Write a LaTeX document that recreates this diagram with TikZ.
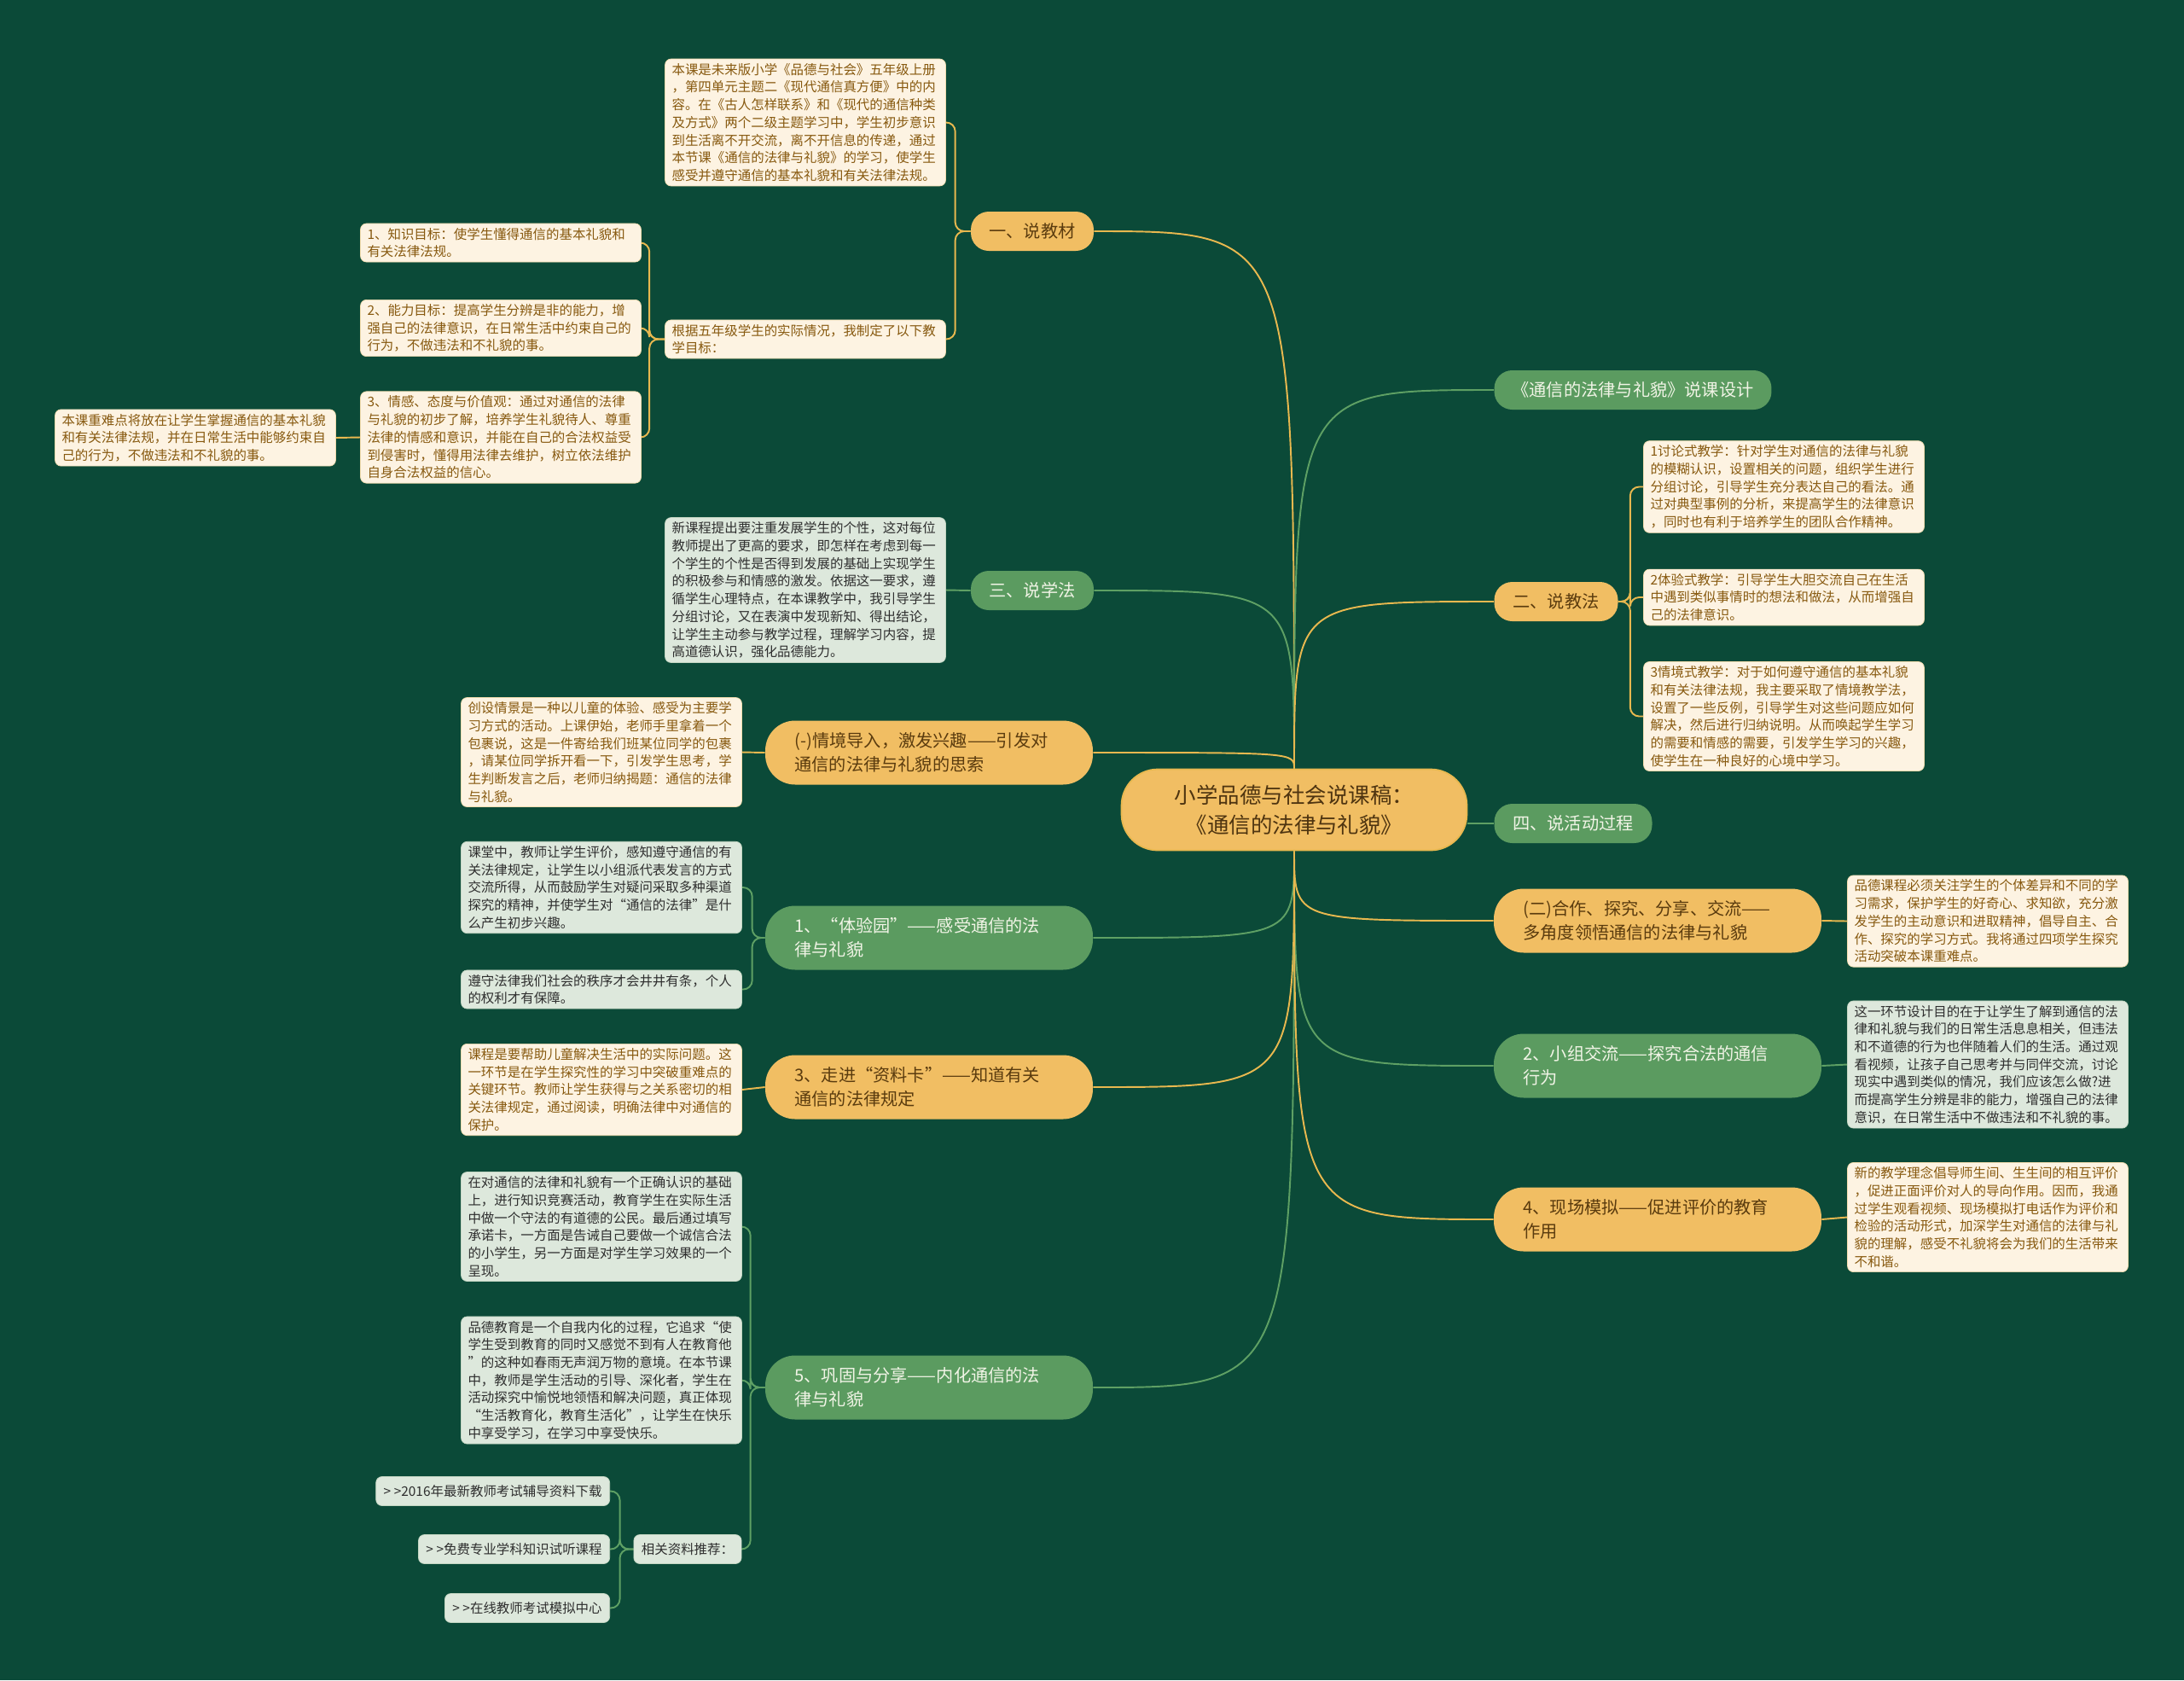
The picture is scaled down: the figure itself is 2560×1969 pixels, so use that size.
\documentclass[tikz,border=0pt]{standalone}
\usepackage{fontspec}
\setmainfont{Noto Sans CJK SC}
\usepackage{tikz}
\usetikzlibrary{positioning, backgrounds}
\definecolor{bgGreen}{HTML}{0B4A38}
\definecolor{brY}{HTML}{F1BE63}
\definecolor{brYT}{HTML}{5A3B0E}
\definecolor{rtT}{HTML}{4E3410}
\definecolor{brG}{HTML}{5B9B60}
\definecolor{brGT}{HTML}{F1F4E6}
\definecolor{lfY}{HTML}{FDF3E2}
\definecolor{lfYB}{HTML}{F2DCAE}
\definecolor{lfYT}{HTML}{87590F}
\definecolor{lfG}{HTML}{DDE8DC}
\definecolor{lfGB}{HTML}{C3D6C2}
\definecolor{lfGT}{HTML}{2E2E2E}
\definecolor{lnY}{HTML}{E8B84F}
\definecolor{lnG}{HTML}{5EA064}
\newcommand{\rlink}[3]{\draw[#1] (#2) .. controls (#2 |- #3) .. (#3);}
\newcommand{\elbow}[4]{\draw[#1, rounded corners=6pt] (#2) -- ++(#3,0) |- (#4);}

\begin{document}
\begin{tikzpicture}[x=0.02cm, y=-0.02cm,
rootbox/.style={fill=brY, draw=lnY, line width=1pt, text=rtT, rounded corners=0.85cm, minimum width=8.1cm, minimum height=1.9cm, align=center, font=\fontsize{14.5}{20}\selectfont},
ybr/.style={fill=brY, text=brYT, rounded corners=0.42cm, minimum height=0.92cm, inner xsep=0.3cm, font=\fontsize{11.5}{15.8}\selectfont},
gbr/.style={ybr, fill=brG, text=brGT},
wide/.style={rounded corners=0.7cm, align=left, text width=6.3cm, minimum height=1.5cm, inner xsep=0.69cm},
leafY/.style={draw=lfYB, line width=0.4pt, fill=lfY, text=lfYT, rounded corners=4pt, align=left, text width=6.26cm, inner xsep=0.16cm, inner ysep=0.1cm, font=\fontsize{8.8}{11.8}\selectfont},
leafG/.style={leafY, draw=lfGB, fill=lfG, text=lfGT},
lk/.style={draw=lfGB, line width=0.4pt, fill=lfG, text=lfGT, rounded corners=4pt, inner xsep=0.18cm, minimum height=0.68cm, anchor=east, font=\fontsize{8.8}{11.8}\selectfont},
yline/.style={draw=lnY, line width=1.1pt},
gline/.style={draw=lnG, line width=1.1pt}]
\useasboundingbox (0,0) rectangle (2560,1969);
\node[rootbox] (root) at (1517,949) {小学品德与社会说课稿：\\《通信的法律与礼貌》};
\node[ybr, minimum width=2.88cm] (jc) at (1210,271) {一、说教材};
\node[gbr, minimum width=2.88cm] (xf) at (1210,692) {三、说学法};
\node[ybr, wide] (qj) at (1089,882) {(-)情境导入，激发兴趣——引发对\\通信的法律与礼貌的思索};
\node[gbr, wide] (ty) at (1089,1099) {1、“体验园”——感受通信的法\\律与礼貌};
\node[ybr, wide] (zl) at (1089,1274) {3、走进“资料卡”——知道有关\\通信的法律规定};
\node[gbr, wide] (gg) at (1089,1626) {5、巩固与分享——内化通信的法\\律与礼貌};
\node[gbr, minimum width=6.5cm] (sj) at (1914,457) {《通信的法律与礼貌》说课设计};
\node[ybr, minimum width=2.9cm] (jf) at (1824,705) {二、说教法};
\node[gbr, minimum width=3.7cm] (hd) at (1844,965) {四、说活动过程};
\node[ybr, wide] (hz) at (1943,1079) {(二)合作、探究、分享、交流——\\多角度领悟通信的法律与礼貌};
\node[gbr, wide] (xz) at (1943,1249) {2、小组交流——探究合法的通信\\行为};
\node[ybr, wide] (xc) at (1943,1429) {4、现场模拟——促进评价的教育\\作用};
\node[leafY] (jcA) at (944,143.5) {本课是未来版小学《品德与社会》五年级上册\\，第四单元主题二《现代通信真方便》中的内\\容。在《古人怎样联系》和《现代的通信种类\\及方式》两个二级主题学习中，学生初步意识\\到生活离不开交流，离不开信息的传递，通过\\本节课《通信的法律与礼貌》的学习，使学生\\感受并遵守通信的基本礼貌和有关法律法规。};
\node[leafY] (jcB) at (944,397.5) {根据五年级学生的实际情况，我制定了以下教\\学目标：};
\node[leafY] (mbA) at (587,284.5) {1、知识目标：使学生懂得通信的基本礼貌和\\有关法律法规。};
\node[leafY] (mbB) at (587,384.5) {2、能力目标：提高学生分辨是非的能力，增\\强自己的法律意识，在日常生活中约束自己的\\行为，不做违法和不礼貌的事。};
\node[leafY] (mbC) at (587,512.5) {3、情感、态度与价值观：通过对通信的法律\\与礼貌的初步了解，培养学生礼貌待人、尊重\\法律的情感和意识，并能在自己的合法权益受\\到侵害时，懂得用法律去维护，树立依法维护\\自身合法权益的信心。};
\node[leafY] (zd) at (229,513) {本课重难点将放在让学生掌握通信的基本礼貌\\和有关法律法规，并在日常生活中能够约束自\\己的行为，不做违法和不礼貌的事。};
\node[leafG] (xfA) at (944,691.5) {新课程提出要注重发展学生的个性，这对每位\\教师提出了更高的要求，即怎样在考虑到每一\\个学生的个性是否得到发展的基础上实现学生\\的积极参与和情感的激发。依据这一要求，遵\\循学生心理特点，在本课教学中，我引导学生\\分组讨论，又在表演中发现新知、得出结论，\\让学生主动参与教学过程，理解学习内容，提\\高道德认识，强化品德能力。};
\node[leafY] (qjA) at (705,881.5) {创设情景是一种以儿童的体验、感受为主要学\\习方式的活动。上课伊始，老师手里拿着一个\\包裹说，这是一件寄给我们班某位同学的包裹\\，请某位同学拆开看一下，引发学生思考，学\\生判断发言之后，老师归纳揭题：通信的法律\\与礼貌。};
\node[leafG] (tyA) at (705,1040) {课堂中，教师让学生评价，感知遵守通信的有\\关法律规定，让学生以小组派代表发言的方式\\交流所得，从而鼓励学生对疑问采取多种渠道\\探究的精神，并使学生对“通信的法律”是什\\么产生初步兴趣。};
\node[leafG] (tyB) at (705,1159.5) {遵守法律我们社会的秩序才会井井有条，个人\\的权利才有保障。};
\node[leafY] (zlA) at (705,1277) {课程是要帮助儿童解决生活中的实际问题。这\\一环节是在学生探究性的学习中突破重难点的\\关键环节。教师让学生获得与之关系密切的相\\关法律规定，通过阅读，明确法律中对通信的\\保护。};
\node[leafG] (ggA) at (705,1437.5) {在对通信的法律和礼貌有一个正确认识的基础\\上，进行知识竞赛活动，教育学生在实际生活\\中做一个守法的有道德的公民。最后通过填写\\承诺卡，一方面是告诫自己要做一个诚信合法\\的小学生，另一方面是对学生学习效果的一个\\呈现。};
\node[leafG] (ggB) at (705,1617.5) {品德教育是一个自我内化的过程，它追求“使\\学生受到教育的同时又感觉不到有人在教育他\\”的这种如春雨无声润万物的意境。在本节课\\中，教师是学生活动的引导、深化者，学生在\\活动探究中愉悦地领悟和解决问题，真正体现\\“生活教育化，教育生活化”，让学生在快乐\\中享受学习，在学习中享受快乐。};
\node[lk, anchor=center] (zy) at (806,1815.5) {相关资料推荐：};
\node[lk] (zyA) at (715,1747.5) {> >2016年最新教师考试辅导资料下载};
\node[lk] (zyB) at (715,1815.5) {> >免费专业学科知识试听课程};
\node[lk] (zyC) at (715,1884.5) {> >在线教师考试模拟中心};
\node[leafY] (jfA) at (2091,570.5) {1讨论式教学：针对学生对通信的法律与礼貌\\的模糊认识，设置相关的问题，组织学生进行\\分组讨论，引导学生充分表达自己的看法。通\\过对典型事例的分析，来提高学生的法律意识\\，同时也有利于培养学生的团队合作精神。};
\node[leafY] (jfB) at (2091,700) {2体验式教学：引导学生大胆交流自己在生活\\中遇到类似事情时的想法和做法，从而增强自\\己的法律意识。};
\node[leafY] (jfC) at (2091,839.5) {3情境式教学：对于如何遵守通信的基本礼貌\\和有关法律法规，我主要采取了情境教学法，\\设置了一些反例，引导学生对这些问题应如何\\解决，然后进行归纳说明。从而唤起学生学习\\的需要和情感的需要，引发学生学习的兴趣，\\使学生在一种良好的心境中学习。};
\node[leafY] (hzA) at (2330,1079.5) {品德课程必须关注学生的个体差异和不同的学\\习需求，保护学生的好奇心、求知欲，充分激\\发学生的主动意识和进取精神，倡导自主、合\\作、探究的学习方式。我将通过四项学生探究\\活动突破本课重难点。};
\node[leafG] (xzA) at (2330,1247.5) {这一环节设计目的在于让学生了解到通信的法\\律和礼貌与我们的日常生活息息相关，但违法\\和不道德的行为也伴随着人们的生活。通过观\\看视频，让孩子自己思考并与同伴交流，讨论\\现实中遇到类似的情况，我们应该怎么做?进\\而提高学生分辨是非的能力，增强自己的法律\\意识，在日常生活中不做违法和不礼貌的事。};
\node[leafY] (xcA) at (2330,1426.5) {新的教学理念倡导师生间、生生间的相互评价\\，促进正面评价对人的导向作用。因而，我通\\过学生观看视频、现场模拟打电话作为评价和\\检验的活动形式，加深学生对通信的法律与礼\\貌的理解，感受不礼貌将会为我们的生活带来\\不和谐。};
\begin{pgfonlayer}{background}
\fill[bgGreen] (0,0) rectangle (2560,1969);
\rlink{yline}{root.north}{jc.east}
\rlink{gline}{root.north}{xf.east}
\rlink{yline}{root.north}{qj.east}
\rlink{gline}{root.north}{sj.west}
\rlink{yline}{root.north}{jf.west}
\rlink{gline}{root.south}{ty.east}
\rlink{yline}{root.south}{zl.east}
\rlink{gline}{root.south}{gg.east}
\rlink{yline}{root.south}{hz.west}
\rlink{gline}{root.south}{xz.west}
\rlink{yline}{root.south}{xc.west}
\draw[gline] (root.east |- hd.west) -- (hd.west);
\elbow{yline}{jc.west}{-18}{jcA.east}
\elbow{yline}{jc.west}{-18}{jcB.east}
\elbow{yline}{jcB.west}{-18}{mbA.east}
\elbow{yline}{jcB.west}{-18}{mbB.east}
\elbow{yline}{jcB.west}{-18}{mbC.east}
\draw[yline] (mbC.west) -- (zd.east);
\draw[gline] (xf.west) -- (xfA.east);
\draw[yline] (qj.west) -- (qjA.east);
\elbow{gline}{ty.west}{-15}{tyA.east}
\elbow{gline}{ty.west}{-15}{tyB.east}
\draw[yline] (zl.west) -- (zlA.east);
\elbow{gline}{gg.west}{-17}{ggA.east}
\elbow{gline}{gg.west}{-17}{ggB.east}
\elbow{gline}{gg.west}{-17}{zy.east}
\elbow{gline}{zy.west}{-16}{zyA.east}
\elbow{gline}{zy.west}{-16}{zyB.east}
\elbow{gline}{zy.west}{-16}{zyC.east}
\elbow{yline}{jf.east}{14}{jfA.west}
\elbow{yline}{jf.east}{14}{jfB.west}
\elbow{yline}{jf.east}{14}{jfC.west}
\draw[yline] (hz.east) -- (hzA.west);
\draw[gline] (xz.east) -- (xzA.west);
\draw[yline] (xc.east) -- (xcA.west);
\end{pgfonlayer}
\end{tikzpicture}
\end{document}
